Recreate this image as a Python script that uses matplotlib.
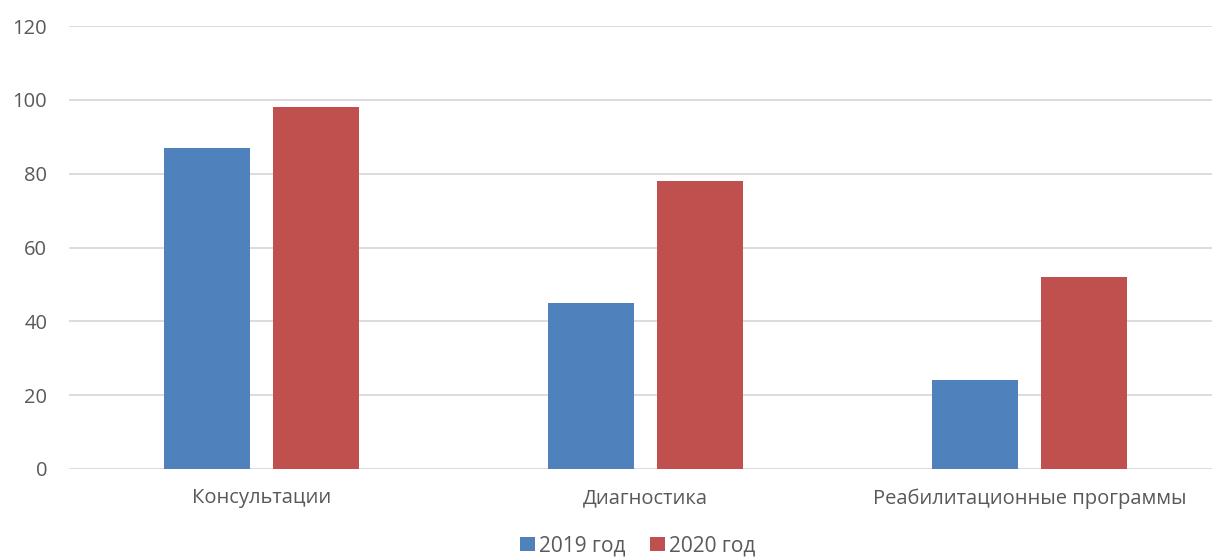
import numpy as np
import matplotlib.pyplot as plt

plt.rcParams['font.family'] = ['Open Sans', 'DejaVu Sans']

categories = ["Консультации", "Диагностика", "Реабилитационные программы"]
series_names = ["2019 год", "2020 год"]
values_2019 = [87, 45, 24]
values_2020 = [98, 78, 52]
y_ticks = [0, 20, 40, 60, 80, 100, 120]

BLUE = "#4F81BD"
RED = "#C0504D"
TEXT = "#595959"

fig = plt.figure(figsize=(12.12, 5.57), dpi=100)
ax = fig.add_axes([0.0573, 0.158, 0.9505, 0.795])

x = np.arange(len(categories))
w = 0.224
off = 0.143
ax.bar(x - off, values_2019, width=w, color=BLUE, label=series_names[0], zorder=3)
ax.bar(x + off, values_2020, width=w, color=RED, label=series_names[1], zorder=3)

ax.set_xlim(-0.5, len(categories) - 0.5)
ax.set_ylim(0, 120)
ax.set_yticks(y_ticks)
ax.set_xticks(x)
ax.set_xticklabels(categories)
ax.tick_params(axis='both', length=0, labelsize=14.5, colors=TEXT)
ax.tick_params(axis='x', pad=14)
ax.tick_params(axis='y', pad=16)
ax.grid(axis='y', color="#D9D9D9", linewidth=1.3, zorder=0)
for s in ax.spines.values():
    s.set_visible(False)

fig.legend(*ax.get_legend_handles_labels(), loc='center',
           bbox_to_anchor=(0.526, 0.02), ncol=2, frameon=False,
           fontsize=15, handlelength=0.7, handleheight=0.7, handletextpad=0.2,
           columnspacing=1.2, labelcolor=TEXT)

fig.savefig("out.png", dpi=100)
